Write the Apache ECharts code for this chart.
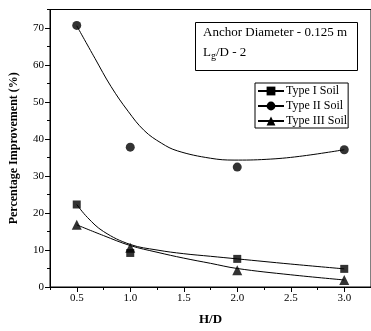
<!DOCTYPE html>
<html><head><meta charset="utf-8">
<script src="https://cdn.jsdelivr.net/npm/echarts@6/dist/echarts.min.js"></script>
<style>html,body{margin:0;padding:0;background:#fff}#c{width:371px;height:331px}</style>
</head><body><div id="c"></div>
<script>
// Measured points
const hd = [0.5, 1.0, 2.0, 3.0];
const type1 = [22.3, 9.2, 7.6, 4.9];
const type2 = [70.7, 37.8, 32.4, 37.1];
const type3 = [16.8, 10.6, 4.5, 1.9];
// Fitted curves
const fit1X = [0.5, 0.6, 0.75, 1.0, 1.25, 1.5, 1.75, 2.0, 2.5, 3.0];
const fit1Y = [22.3, 18.8, 15.0, 11.5, 10.0, 9.0, 8.3, 7.6, 6.2, 4.9];
const fit2X = [0.5, 0.67, 0.82, 0.98, 1.13, 1.29, 1.44, 1.75, 1.97, 2.27, 2.58, 3.0];
const fit2Y = [70.6, 61.8, 54.2, 47.5, 42.3, 38.9, 36.8, 34.8, 34.3, 34.5, 35.3, 37.1];
const fit3X = [0.5, 0.75, 1.0, 1.25, 1.5, 1.75, 2.0, 2.5, 3.0];
const fit3Y = [16.8, 13.9, 11.2, 9.4, 7.8, 6.4, 5.0, 3.3, 1.9];
const xMajor = [0.5, 1.0, 1.5, 2.0, 2.5, 3.0];
const yMajor = [0, 10, 20, 30, 40, 50, 60, 70];
const yMinor = [5, 15, 25, 35, 45, 55, 65, 75];
const names = ['Type I Soil', 'Type II Soil', 'Type III Soil'];

const font = 'Liberation Serif';
const zip = (a, b) => a.map((v, i) => [v, b[i]]);
const pts = [type1, type2, type3];
const fits = [[fit1X, fit1Y], [fit2X, fit2Y], [fit3X, fit3Y]];
const syms = ['rect', 'circle', 'triangle'];
const sizes = [8, 9, 10];

const series = [];
for (let i = 0; i < 3; i++) {
  series.push({
    name: names[i], type: 'line', smooth: 0.4, data: zip(fits[i][0], fits[i][1]),
    symbol: syms[i], symbolSize: 8, showSymbol: false,
    lineStyle: {color: '#000', width: 1}, itemStyle: {color: '#000'}, z: 2
  });
  series.push({
    name: names[i] + ' pts', type: 'scatter', data: zip(hd, pts[i]),
    symbol: syms[i], symbolSize: sizes[i], itemStyle: {color: '#000'}, z: 3
  });
}

const chart = echarts.init(document.getElementById('c'), null, {renderer: 'canvas'});
chart.setOption({
  animation: false,
  grid: {left: 47.5, top: 9.5, right: -1.5, bottom: 42, show: true, borderColor: '#000', borderWidth: 1},
  xAxis: [{
    type: 'value', min: 0.25, max: 3.25, interval: 0.25,
    name: 'H/D', nameLocation: 'middle', nameGap: 26,
    nameTextStyle: {fontFamily: font, fontWeight: 'bold', fontSize: 13, color: '#000'},
    axisLine: {show: true, lineStyle: {color: '#000'}},
    axisTick: {show: true, length: 3, lineStyle: {color: '#000'}},
    axisLabel: {customValues: xMajor, formatter: v => v.toFixed(1), fontFamily: font, fontSize: 11, color: '#000', margin: 6},
    splitLine: {show: false}
  }, {
    type: 'value', min: 0.25, max: 3.25, position: 'bottom',
    axisLine: {show: false},
    axisTick: {show: true, length: 5, customValues: xMajor, lineStyle: {color: '#000'}},
    axisLabel: {show: false}, splitLine: {show: false}
  }],
  yAxis: [{
    type: 'value', min: 0, max: 75,
    name: 'Percentage Improvement (%)', nameLocation: 'middle', nameGap: 30,
    nameTextStyle: {fontFamily: font, fontWeight: 'bold', fontSize: 12, color: '#000'},
    axisLine: {show: true, lineStyle: {color: '#000'}},
    axisTick: {show: true, length: 5, customValues: yMajor, lineStyle: {color: '#000'}},
    axisLabel: {customValues: yMajor, fontFamily: font, fontSize: 11, color: '#000', margin: 6},
    splitLine: {show: false}
  }, {
    type: 'value', min: 0, max: 75, position: 'left',
    axisLine: {show: false},
    axisTick: {show: true, length: 3, customValues: yMinor, lineStyle: {color: '#000'}},
    axisLabel: {show: false}, splitLine: {show: false}
  }],
  legend: {
    data: names, orient: 'vertical', left: 255, top: 83,
    itemWidth: 26, itemHeight: 11, itemGap: 3,
    padding: [2, 1, 1, 2], borderColor: '#000', borderWidth: 1, borderRadius: 0,
    textStyle: {fontFamily: font, fontSize: 12, color: '#000', padding: [0, 0, 0, -3]},
    selectedMode: false
  },
  graphic: [{
    type: 'rect', left: 195, top: 22, shape: {width: 162, height: 48},
    style: {fill: '#fff', stroke: '#000', lineWidth: 1}, z: 10
  }, {
    type: 'text', left: 203, top: 26, z: 11,
    style: {text: 'Anchor Diameter - 0.125 m', font: '13px "Liberation Serif"', fill: '#000'}
  }, {
    type: 'text', left: 203, top: 46, z: 11,
    style: {
      text: 'L{s|g}/D - 2', font: '13px "Liberation Serif"', fill: '#000',
      rich: {s: {fontSize: 10, fontFamily: font, padding: [8, 0, 0, 0], verticalAlign: 'bottom'}}
    }
  }],
  series: series
});
</script></body></html>
